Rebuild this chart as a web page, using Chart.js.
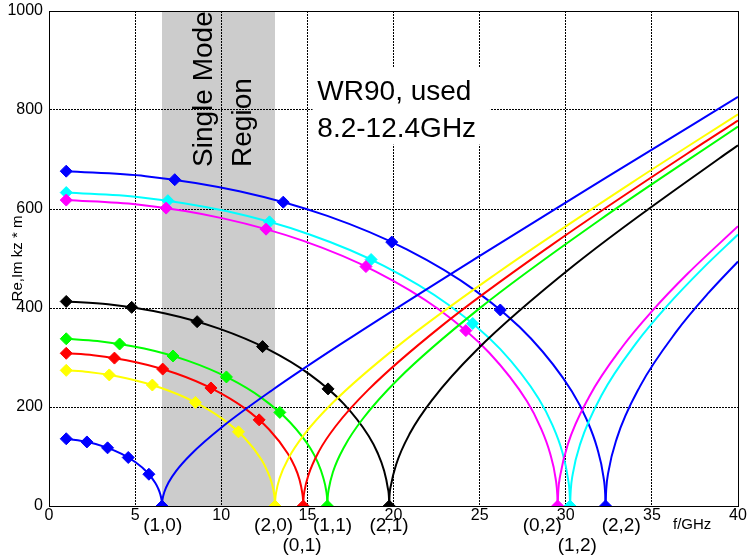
<!DOCTYPE html>
<html>
<head>
<meta charset="utf-8">
<script src="https://cdn.jsdelivr.net/npm/chart.js@4"></script>
<style>
  html, body { margin: 0; padding: 0; background: #fff; }
  #c { display: block; }
</style>
</head>
<body>
<canvas id="c" width="747" height="557"></canvas>
<script>
// kz of the TE(m,n) modes in WR90, [f/GHz, |kz|*m]
// imaginary part below cutoff (im), real part above (re), diamond markers (mk)
const im10 = [[1,135.8],[2.244,129.1],[3.28,119.0],[4.217,105.2],[5.025,88.3],[5.681,68.7],[6.164,47.0],[6.336,35.6],[6.46,23.9],[6.535,12.0],[6.556,4.8],[6.56,0]];
const re10 = [[6.56,0],[6.568,6.9],[6.593,13.8],[6.692,27.7],[6.966,49.1],[7.397,71.6],[8.234,104.2],[10.12,161.5],[12.93,233.4],[16.91,326.4],[24.68,498.3],[32.34,663.2],[40,826.5]];
const mk10 = [[1,135.8],[2.2,129.4],[3.4,117.5],[4.6,98.0],[5.8,64.2],[6.56,0]];

const im20 = [[1,274.0],[2.278,270.6],[4.487,258.2],[6.56,238.0],[8.434,210.5],[10.05,176.6],[11.36,137.4],[12.33,94.0],[12.67,71.1],[12.92,47.7],[13.07,24.0],[13.11,9.6],[13.12,0]];
const re20 = [[13.12,0],[13.136,13.7],[13.186,27.5],[13.38,55.3],[13.93,98.2],[14.79,143.2],[16.47,208.5],[20.25,323.0],[25.86,466.7],[33.82,652.8],[40,791.4]];
const mk20 = [[1,274.0],[3.5,264.8],[6,244.4],[8.5,209.3],[11,149.8],[13.12,0]];

const im01 = [[1,308.5],[2.562,304.5],[5.048,290.6],[7.38,267.8],[9.488,236.8],[11.31,198.8],[12.78,154.6],[13.87,105.7],[14.26,80.0],[14.54,53.7],[14.70,27.0],[14.75,10.8],[14.76,0]];
const re01 = [[14.76,0],[14.778,15.5],[14.834,31.0],[15.06,62.2],[15.67,110.4],[16.64,161.1],[18.53,234.6],[22.78,363.4],[29.09,525.1],[38.04,734.5],[40,778.6]];
const mk01 = [[1,308.5],[3.8,298.8],[6.6,276.6],[9.4,238.4],[12.2,174.0],[14.76,0]];

const im11 = [[1,337.8],[2.805,333.3],[5.527,318.0],[8.08,293.1],[10.39,259.2],[12.38,217.5],[13.99,169.2],[15.19,115.7],[15.61,87.6],[15.91,58.7],[16.10,29.5],[16.15,11.8],[16.16,0]];
const re11 = [[16.16,0],[16.18,16.9],[16.24,33.9],[16.48,68.1],[17.16,120.9],[18.22,176.3],[20.28,256.7],[24.94,397.7],[31.85,574.7],[40,766.4]];
const mk11 = [[1,337.8],[4.1,327.3],[7.2,303.0],[10.3,260.7],[13.4,189.1],[16.16,0]];

const im21 = [[1,413.2],[3.429,407.4],[6.755,388.8],[9.875,358.3],[12.70,316.9],[15.13,265.9],[17.10,206.9],[18.56,141.5],[19.08,107.1],[19.45,71.8],[19.67,36.1],[19.74,14.4],[19.75,0]];
const re21 = [[19.75,0],[19.77,20.7],[19.85,41.4],[20.15,83.3],[20.97,147.8],[22.27,215.6],[24.79,313.8],[30.48,486.2],[38.93,702.6],[40,728.5]];
const mk21 = [[1,413.2],[4.8,401.3],[8.6,372.4],[12.4,322.0],[16.2,236.6],[19.75,0]];

const im02 = [[1,618.0],[5.126,609.0],[10.10,581.1],[14.77,535.5],[18.98,473.7],[22.62,397.5],[25.57,309.2],[27.75,211.5],[28.52,160.0],[29.08,107.4],[29.42,53.9],[29.51,21.6],[29.53,0]];
const re02 = [[29.53,0],[29.567,30.9],[29.68,61.9],[30.12,124.5],[31.36,220.9],[33.30,322.2],[35.01,393.7],[37.07,469.1],[40,565.2]];
const mk02 = [[1,618.0],[6.8,601.8],[12.6,559.3],[18.4,483.7],[24.2,354.4],[29.53,0]];

const im12 = [[1,633.2],[5.251,623.9],[10.35,595.3],[15.13,548.6],[19.44,485.3],[23.17,407.2],[26.20,316.8],[28.43,216.7],[29.22,164.0],[29.79,110.0],[30.13,55.2],[30.23,22.1],[30.25,0]];
const re12 = [[30.25,0],[30.29,31.7],[30.40,63.5],[30.86,127.5],[32.12,226.3],[34.11,330.1],[35.86,403.4],[37.97,480.6],[40,548.3]];
const mk12 = [[1,633.2],[6.9,616.8],[12.8,574.0],[18.7,497.9],[24.6,368.7],[30.25,0]];

const im22 = [[1,676.4],[5.609,666.4],[11.05,635.9],[16.16,586.0],[20.77,518.3],[24.75,435.0],[27.98,338.4],[30.36,231.4],[31.21,175.1],[31.82,117.5],[32.19,59.0],[32.29,23.6],[32.31,0]];
const re22 = [[32.31,0],[32.35,33.8],[32.47,67.8],[32.96,136.2],[34.31,241.7],[36.43,352.6],[38.30,430.9],[40,494.0]];
const mk22 = [[1,676.4],[7.3,659.2],[13.6,613.8],[19.9,533.1],[26.2,396.0],[32.31,0]];

const modeNames = ['(1,0)', '(2,0)', '(0,1)', '(1,1)', '(2,1)', '(0,2)', '(1,2)', '(2,2)'];
const modeIm = [im10, im20, im01, im11, im21, im02, im12, im22];
const modeRe = [re10, re20, re01, re11, re21, re02, re12, re22];
const modeMk = [mk10, mk20, mk01, mk11, mk21, mk02, mk12, mk22];
const modeColors = ['#0000ff', '#ffff00', '#ff0000', '#00ff00', '#000000', '#ff00ff', '#00ffff', '#0000ff'];
// where the mode names sit under the axis (GHz) and in which row
const labelF = [6.6, 13.04, 14.69, 16.46, 19.74, 28.64, 30.67, 33.22];
const labelRow = [0, 0, 1, 0, 0, 0, 1, 0];

const singleMode = [6.56, 13.12];
const xTicks = { min: 0, max: 40, step: 5 };
const yTicks = { min: 0, max: 1000, step: 200 };

const FONT = '"Liberation Sans", Arial, sans-serif';
const pts = arr => arr.map(p => ({ x: p[0], y: p[1] }));

const datasets = [];
modeNames.forEach((name, i) => {
  const col = modeColors[i];
  datasets.push({
    label: name + ' Im', data: pts(modeIm[i]), showLine: true,
    borderColor: col, borderWidth: 2, pointRadius: 0, cubicInterpolationMode: 'monotone'
  });
  datasets.push({
    label: name + ' Re', data: pts(modeRe[i]), showLine: true,
    borderColor: col, borderWidth: 2, pointRadius: 0, cubicInterpolationMode: 'monotone'
  });
  datasets.push({
    label: name + ' markers', data: pts(modeMk[i]), showLine: false,
    pointStyle: 'rectRot', pointRadius: 6, borderWidth: 1,
    backgroundColor: col, borderColor: col
  });
});

const decor = {
  id: 'decor',
  beforeDraw(chart) {
    // grey single mode band behind the grid
    const { ctx, chartArea: a, scales: { x } } = chart;
    ctx.save();
    ctx.fillStyle = '#cccccc';
    const x0 = x.getPixelForValue(singleMode[0]);
    const x1 = x.getPixelForValue(singleMode[1]);
    ctx.fillRect(x0, a.top + 1, x1 - x0, a.bottom - a.top - 1);
    ctx.restore();
  },
  afterDraw(chart) {
    const { ctx, chartArea: a, scales: { x, y } } = chart;
    ctx.save();

    // frame
    ctx.strokeStyle = '#000';
    ctx.lineWidth = 1;
    ctx.strokeRect(Math.round(a.left) + 0.5, Math.round(a.top) + 0.5,
      Math.round(a.right - a.left), Math.round(a.bottom - a.top));

    // rotated text in the band
    ctx.fillStyle = '#000';
    ctx.font = '28px ' + FONT;
    ctx.textAlign = 'left';
    ctx.textBaseline = 'alphabetic';
    [['Single Mode', 9.49], ['Region', 11.71]].forEach(([t, f]) => {
      ctx.save();
      ctx.translate(x.getPixelForValue(f), y.getPixelForValue(685));
      ctx.rotate(-Math.PI / 2);
      ctx.fillText(t, 0, 0);
      ctx.restore();
    });

    // WR90 box
    const bx0 = x.getPixelForValue(15.3), bx1 = x.getPixelForValue(25.6);
    const by0 = y.getPixelForValue(886), by1 = y.getPixelForValue(730);
    ctx.fillStyle = '#fff';
    ctx.fillRect(bx0, by0, bx1 - bx0, by1 - by0);
    ctx.fillStyle = '#000';
    ctx.font = '28px ' + FONT;
    ctx.fillText('WR90, used', x.getPixelForValue(15.58), y.getPixelForValue(821));
    ctx.fillText('8.2-12.4GHz', x.getPixelForValue(15.58), y.getPixelForValue(745.6));

    // mode names under the axis
    ctx.font = '19px ' + FONT;
    ctx.textAlign = 'center';
    ctx.textBaseline = 'middle';
    modeNames.forEach((n, i) => {
      ctx.fillText(n, x.getPixelForValue(labelF[i]), a.bottom + (labelRow[i] ? 40 : 20));
    });

    // axis names
    ctx.font = '15px ' + FONT;
    ctx.fillText('f/GHz', x.getPixelForValue(37.34), a.bottom + 19);
    ctx.save();
    ctx.translate(a.left - 31, y.getPixelForValue(500));
    ctx.rotate(-Math.PI / 2);
    ctx.fillText('Re,Im kz * m', 0, 0);
    ctx.restore();

    ctx.restore();
  }
};

new Chart(document.getElementById('c'), {
  type: 'scatter',
  data: { datasets },
  options: {
    responsive: false,
    animation: false,
    devicePixelRatio: 1,
    layout: { padding: { top: 11, right: 9, left: 0, bottom: 0 } },
    plugins: { legend: { display: false }, tooltip: { enabled: false } },
    scales: {
      x: {
        type: 'linear', min: xTicks.min, max: xTicks.max,
        afterFit: s => { s.height = 51; },
        ticks: { stepSize: xTicks.step, color: '#000', font: { family: FONT, size: 16 }, padding: 0, maxRotation: 0,
          callback: v => String(v) },
        grid: { color: '#000', lineWidth: 1, drawTicks: false },
        border: { display: true, color: '#000', width: 1, dash: [2, 1] }
      },
      y: {
        min: yTicks.min, max: yTicks.max,
        afterFit: s => { s.width = 49; s.paddingTop = 0; s.paddingBottom = 0; },
        ticks: { stepSize: yTicks.step, color: '#000', font: { family: FONT, size: 16 }, padding: 6,
          callback: v => String(v) },
        grid: { color: '#000', lineWidth: 1, drawTicks: false },
        border: { display: true, color: '#000', width: 1, dash: [2, 1] }
      }
    }
  },
  plugins: [decor]
});
</script>
</body>
</html>
